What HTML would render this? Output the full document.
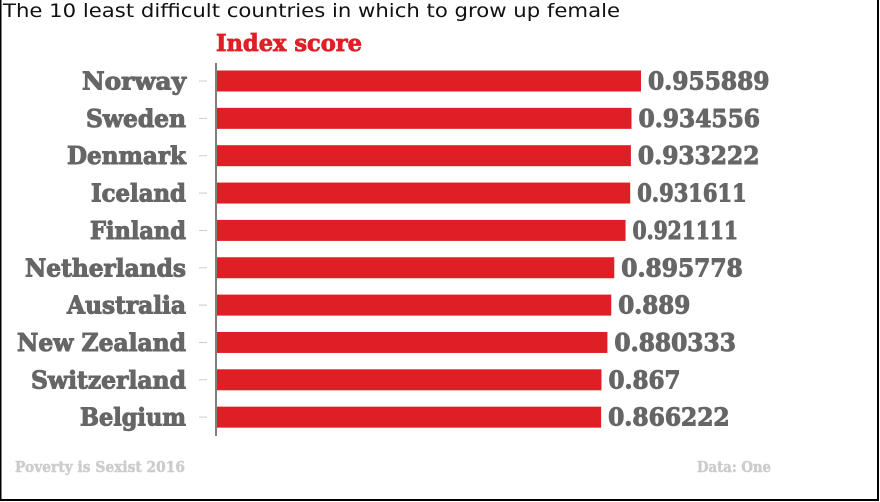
<!DOCTYPE html>
<html><head><meta charset="utf-8"><style>
html,body{margin:0;padding:0;background:#fff;}
svg{display:block;}
</style></head><body>
<svg width="880" height="502" viewBox="0 0 880 502" id="chart">
<rect x="0.5" y="-2" width="877.5" height="502" fill="#fff" stroke="#000" stroke-width="2"/>
<text x="3" y="17" font-family="DejaVu Sans, sans-serif" font-size="19" fill="#111" textLength="617" lengthAdjust="spacingAndGlyphs">The 10 least difficult countries in which to grow up female</text>
<text x="216" y="51" font-family="DejaVu Serif, serif" font-weight="bold" font-size="23" fill="#e01e26" stroke="#e01e26" stroke-width="0.8" textLength="146" lengthAdjust="spacingAndGlyphs">Index score</text>
<line x1="216" y1="63" x2="216" y2="436" stroke="#555" stroke-width="1.5"/>
<g id="bars"></g>
<text x="15" y="472" font-family="DejaVu Serif, serif" font-weight="bold" font-size="15" fill="#ccc" stroke="#ccc" stroke-width="0.5" textLength="170" lengthAdjust="spacingAndGlyphs">Poverty is Sexist 2016</text>
<text x="697" y="472" font-family="DejaVu Serif, serif" font-weight="bold" font-size="15" fill="#ccc" stroke="#ccc" stroke-width="0.5" textLength="74" lengthAdjust="spacingAndGlyphs">Data: One</text>
</svg>
<script>
const categories=["Norway","Sweden","Denmark","Iceland","Finland","Netherlands","Australia","New Zealand","Switzerland","Belgium"];
const values=[0.955889,0.934556,0.933222,0.931611,0.921111,0.895778,0.889,0.880333,0.867,0.866222];
const valueLabels=["0.955889","0.934556","0.933222","0.931611","0.921111","0.895778","0.889","0.880333","0.867","0.866222"];
const NS="http://www.w3.org/2000/svg";
const labelWidth={"Norway":104,"Sweden":100,"Denmark":119,"Iceland":95,"Finland":96,"Netherlands":161,"Australia":119,"New Zealand":169,"Switzerland":155,"Belgium":106};
const x0=216, pxPerUnit=444.6;
const xScale=v=>x0+v*pxPerUnit;
const yScale=i=>81+i*37.35;
function textW(s){let w=0;for(const ch of s){w+=ch==='.'?6:(ch==='1'?12.5:16.5);}return w;}
const g=document.getElementById('bars');
function mk(t,a){const e=document.createElementNS(NS,t);for(const k in a)e.setAttribute(k,a[k]);return e;}
categories.forEach((c,i)=>{
  const yc=yScale(i);
  const bar=mk('rect',{x:x0+1,y:yc-10.5,width:xScale(values[i])-x0-1,height:21,fill:'#e01e26'});
  
  
  g.appendChild(bar);
  const tick=mk('line',{x1:199,x2:207,y1:yc,y2:yc,stroke:'#ccc','stroke-width':1});
  
  
  g.appendChild(tick);
  const lab=mk('text',{x:186,y:yc+8.5,'text-anchor':'end','font-family':'DejaVu Serif, serif','font-weight':'bold','font-size':'24',fill:'#666',stroke:'#666','stroke-width':'1'});
  lab.textContent=c;
  lab.setAttribute('textLength',labelWidth[c]||c.length*14);
  lab.setAttribute('lengthAdjust','spacingAndGlyphs');
  
  
  g.appendChild(lab);
  const vl=mk('text',{x:xScale(values[i])+7,y:yc+8.5,'font-family':'DejaVu Serif, serif','font-weight':'bold','font-size':'24',fill:'#666',stroke:'#666','stroke-width':'1'});
  vl.textContent=valueLabels[i];
  vl.setAttribute('textLength',textW(valueLabels[i]));
  vl.setAttribute('lengthAdjust','spacingAndGlyphs');
  
  
  g.appendChild(vl);
});
</script>
</body></html>
